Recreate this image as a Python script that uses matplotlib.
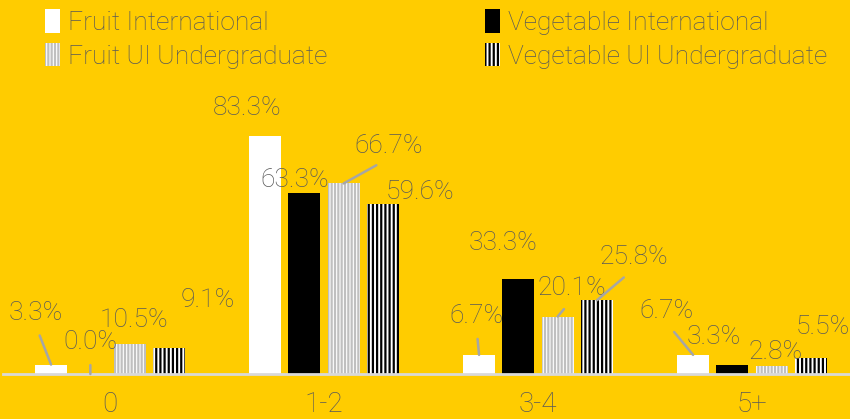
import matplotlib.pyplot as plt
import numpy as np

plt.rcParams["font.family"] = ["Roboto", "DejaVu Sans"]
plt.rcParams["hatch.linewidth"] = 1.6

categories = ["0", "1-2", "3-4", "5+"]
series = ["Fruit International", "Vegetable International",
          "Fruit UI Undergraduate", "Vegetable UI Undergraduate"]
fruit_intl = [3.3, 83.3, 6.7, 6.7]
veg_intl = [0.0, 63.3, 33.3, 3.3]
fruit_ui = [10.5, 66.7, 20.1, 2.8]
veg_ui = [9.1, 59.6, 25.8, 5.5]

# label offsets from bar top (dx px, dy px, leader line)
label_off = [
    [(-15.5, 51.6, 1), (-17.5, 28, 0), (-2.5, 39, 1), (-26.5, 44, 1)],
    [(0, 32, 1), (-10, 13, 0), (-15, 36, 0), (-19, 27.6, 0)],
    [(4, 24, 0), (45, 37, 1), (14, 28.6, 1), (4, 14, 0)],
    [(38.5, 48, 0), (37.5, 12, 0), (36.5, 43, 1), (11.5, 31, 0)],
]

BG = "#FFCC00"
TXT = "#595959"
px_x = 1 / 214.0
px_y = 1 / 2.857

fig = plt.figure(figsize=(8.5, 4.19), dpi=100, facecolor=BG)
ax = fig.add_axes([3 / 850, 45 / 419, 847 / 850, 285.7 / 419])
ax.set_facecolor(BG)

x = np.arange(len(categories))
step = 0.1836
w = 0.15
styles = [
    dict(color="white", edgecolor="white", hatch=None),
    dict(color="black", edgecolor="black", hatch=None),
    dict(color="white", edgecolor="#bfbfbf", hatch="|||||"),
    dict(color="white", edgecolor="black", hatch="||||"),
]
data = [fruit_intl, veg_intl, fruit_ui, veg_ui]
handles = []
for i, (vals, st, name) in enumerate(zip(data, styles, series)):
    xs = x + (i - 1.5) * step
    b = ax.bar(xs, vals, width=w, facecolor=st["color"], edgecolor=st["edgecolor"],
               hatch=st["hatch"], linewidth=0, label=name)
    handles.append(b)
    for j, v in enumerate(vals):
        dx, dy, lead = label_off[i][j]
        tx, ty = xs[j] + dx * px_x, v + dy * px_y
        if lead:
            ax.annotate(f"{v:.1f}%", xy=(xs[j], v), xytext=(tx, ty),
                        ha="center", va="center", fontsize=19, color=TXT,
                        fontweight="light",
                        arrowprops=dict(arrowstyle="-", color="#a6a6a6", lw=1.8,
                                        relpos=(0.5, 0), shrinkA=6, shrinkB=0))
        else:
            ax.text(tx, ty, f"{v:.1f}%", ha="center", va="center", fontsize=19,
                    color=TXT, fontweight="light")

ax.set_xlim(-0.5, 3.458)
ax.set_ylim(0, 100)
ax.set_yticks([])
ax.set_xticks(x)
ax.set_xticklabels(categories, fontsize=20, color=TXT, fontweight="light")
ax.tick_params(axis="x", length=0, pad=12)
for s in ["top", "right", "left"]:
    ax.spines[s].set_visible(False)
ax.spines["bottom"].set_color("#d9d9d9")
ax.spines["bottom"].set_linewidth(2)

order = [0, 2, 1, 3]
leg = fig.legend([handles[k] for k in order], [series[k] for k in order],
                 loc="upper left", bbox_to_anchor=(32 / 850, 1.01), ncol=2,
                 frameon=False, handlelength=0.55, handleheight=1.0,
                 handletextpad=0.3, columnspacing=6.0, labelspacing=0.3,
                 borderaxespad=0.1, labelcolor=TXT, prop=dict(weight="light", size=19))

fig.savefig("out.png", dpi=100, facecolor=BG)
